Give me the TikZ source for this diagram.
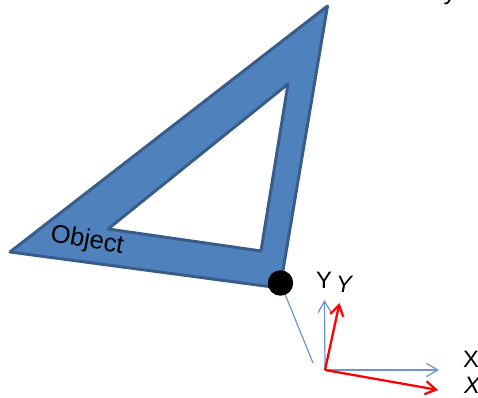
\documentclass[tikz,border=0pt]{standalone}
\usepackage{fontspec}
\setmainfont{Liberation Sans}
\usetikzlibrary{arrows.meta}

\begin{document}
\begin{tikzpicture}[
    x=0.02cm, y=-0.02cm,
    plate/.style={fill=plateblue, draw=plateedge, line width=1.7pt, line join=round, even odd rule},
    label/.style={inner sep=0pt, font=\fontsize{14.5pt}{16pt}\selectfont},
    axislabel/.style={inner sep=0pt, font=\fontsize{13.5pt}{15pt}\selectfont},
    frame/.style={-{Straight Barb[length=6.5pt,width=7.5pt]}, draw=axisblue, line width=0.7pt},
    moved/.style={-{Straight Barb[length=6pt,width=7.5pt]}, draw=red, line width=1.3pt}
]
    \definecolor{plateblue}{RGB}{79,129,189}
    \definecolor{plateedge}{RGB}{56,93,138}
    \definecolor{axisblue}{RGB}{110,150,200}
    \useasboundingbox (0,0) rectangle (478,398);

    \begin{scope}
    \clip (0,0) rectangle (478,398);

    % Object
    \draw[plate] (327.5,6) -- (10,252) -- (280,288) -- cycle
        (288,84) -- (108,229) -- (261,251) -- cycle;
    \node[label, rotate=-10] (object) at (87,241) {Object};

    % reference point and its arm
    \node[circle, fill=black, minimum size=0.51cm, inner sep=0pt] (pivot) at (280.5,283) {};
    \coordinate (armend) at (313,363);
    \draw[draw=axisblue, line width=0.7pt] (pivot) -- (armend);

    % axes
    \coordinate (origin) at (325,370);
    \coordinate (xfixed) at (439,370);
    \coordinate (yfixed) at (324.5,300);
    \coordinate (xmoved) at (438,390);
    \coordinate (ymoved) at (339.5,303);
    \draw[frame] (origin) -- (xfixed);
    \draw[frame] (origin) -- (yfixed);
    \draw[moved] (origin) -- (xmoved);
    \draw[moved] (origin) -- (ymoved);

    \node[axislabel] (ylabel) at (324,280) {Y};
    \node[axislabel] (ymovedlabel) at (344,284) {\itshape Y};
    \node[axislabel] (xlabel) at (471,359) {X};
    \node[axislabel] (xmovedlabel) at (472,385) {\itshape X};
    \node[label] (toplabel) at (450,-5) {y};
    \end{scope}
\end{tikzpicture}
\end{document}
